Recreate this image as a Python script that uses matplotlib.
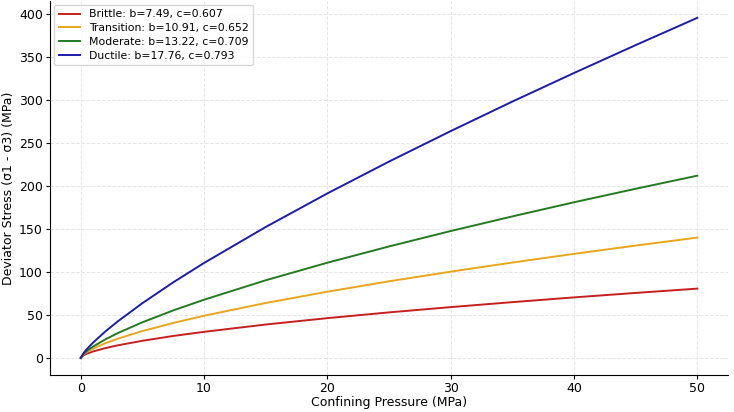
import matplotlib
matplotlib.use('Agg')
import matplotlib.pyplot as plt

# confining pressure (MPa) and deviator stress (MPa)
pressure = [0, 0.25, 0.5, 1, 2, 3, 5, 7.5, 10, 15, 20, 25, 30, 35, 40, 45, 50]
brittle = [0, 3.2, 4.9, 7.5, 11.4, 14.6, 19.9, 25.5, 30.3, 38.8, 46.2, 52.9, 59.0, 64.8, 70.3, 75.5, 80.5]
transition = [0, 4.4, 6.9, 10.9, 17.1, 22.3, 31.2, 40.6, 49.0, 63.8, 76.9, 89.0, 100.2, 110.8, 120.9, 130.5, 139.8]
moderate = [0, 5.0, 8.1, 13.2, 21.6, 28.8, 41.4, 55.2, 67.6, 90.2, 110.6, 129.5, 147.4, 164.4, 180.8, 196.5, 211.7]
ductile = [0, 5.9, 10.3, 17.8, 30.8, 42.4, 63.6, 87.8, 110.3, 152.1, 191.1, 228.1, 263.5, 297.8, 331.0, 363.4, 395.1]

labels = ['Brittle: b=7.49, c=0.607', 'Transition: b=10.91, c=0.652',
          'Moderate: b=13.22, c=0.709', 'Ductile: b=17.76, c=0.793']
colors = ['#c42020', '#e8a61c', '#237a23', '#1c1caa']

fig = plt.figure(figsize=(7.34, 4.12), dpi=100)
ax = fig.add_axes([0.068, 0.09, 0.924, 0.908])

for series, lab, col in zip([brittle, transition, moderate, ductile], labels, colors):
    ax.plot(pressure, series, color=col, linewidth=1.4, label=lab)

ax.set_xlabel('Confining Pressure (MPa)', fontsize=9, labelpad=1)
ax.set_ylabel('Deviator Stress (σ1 - σ3) (MPa)', fontsize=9, labelpad=3)
ax.set_xticks([0, 10, 20, 30, 40, 50])
ax.set_yticks(range(0, 401, 50))
ax.tick_params(labelsize=9, pad=2, length=3)
ax.grid(True, color='#e6e6e6', linestyle='--', linewidth=0.7)
ax.spines['top'].set_visible(False)
ax.spines['right'].set_visible(False)
ax.legend(loc='upper left', fontsize=7.8, handlelength=2.0, borderaxespad=0.4,
          labelspacing=0.35)

fig.savefig('out.png', dpi=100)
